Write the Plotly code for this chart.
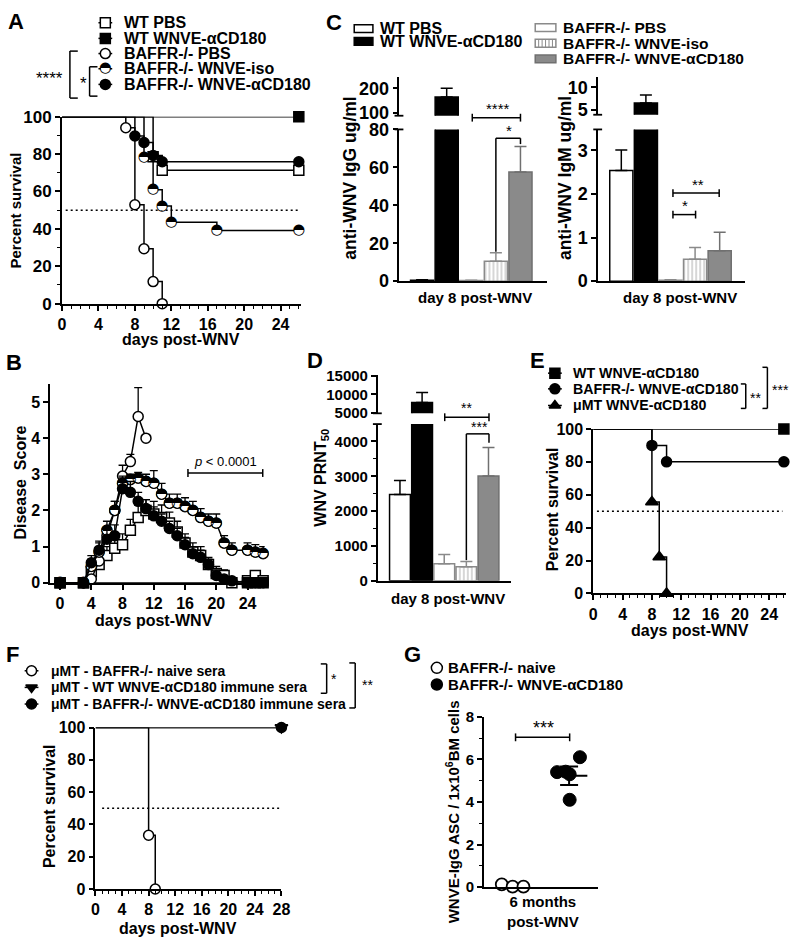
import plotly.graph_objects as go

W, H = 800, 948
FONT = "Liberation Sans"
GFONT = "DejaVu Sans"
HALF = "\u25D3"

# ---------------- DATA ----------------
# A: survival (%) at event days
a_wt_pbs_t = [0, 10, 11, 26]
a_wt_pbs_s = [100, 78.6, 71.4, 71.4]
a_wt_cd180_t = [0, 26]
a_wt_cd180_s = [100, 100]
a_ko_pbs_t = [0, 7, 8, 9, 10, 11]
a_ko_pbs_s = [100, 94.1, 52.9, 29.4, 11.8, 0]
a_ko_iso_t = [0, 9, 10, 11, 12, 17, 26]
a_ko_iso_s = [100, 78.3, 60.9, 52.2, 43.5, 39.1, 39.1]
a_ko_cd180_t = [0, 8, 9, 10, 11, 26]
a_ko_cd180_s = [100, 89.7, 86.2, 79.3, 75.9, 75.9]
a_legend = ["WT PBS", "WT WNVE-\u03b1CD180", "BAFFR-/- PBS", "BAFFR-/- WNVE-iso", "BAFFR-/- WNVE-\u03b1CD180"]

# B: disease score (mean, +SEM)
b_wt_pbs_d = [0, 3, 4, 5, 6, 7, 8, 9, 10, 11, 12, 13, 14, 15, 16, 17, 18, 19, 20, 21, 22, 24, 25, 26]
b_wt_pbs_v = [0, 0, 0.3, 0.5, 0.75, 0.95, 1.05, 1.45, 1.8, 2.0, 1.9, 1.8, 1.65, 1.4, 1.1, 0.85, 0.75, 0.5, 0.25, 0.2, 0.0, 0.05, 0.2, 0.05]
b_wt_pbs_e = [0, 0, 0.15, 0.2, 0.25, 0.25, 0.3, 0.3, 0.35, 0.3, 0.35, 0.35, 0.3, 0.3, 0.25, 0.25, 0.25, 0.2, 0.2, 0.15, 0.1, 0.1, 0.1, 0.05]
b_wt_cd180_d = [0, 3, 24, 25, 26]
b_wt_cd180_v = [0, 0, 0, 0, 0]
b_wt_cd180_e = [0, 0, 0, 0, 0]
b_ko_pbs_d = [0, 3, 4, 5, 6, 7, 8, 9, 10, 11]
b_ko_pbs_v = [0, 0, 0.1, 0.6, 1.3, 2.0, 2.95, 3.35, 4.6, 4.0]
b_ko_pbs_e = [0, 0, 0.1, 0.2, 0.25, 0.25, 0.3, 0.2, 0.8, 0]
b_ko_iso_d = [0, 3, 4, 5, 6, 7, 8, 9, 10, 11, 12, 13, 14, 15, 16, 17, 18, 19, 20, 21, 22, 24, 25, 26]
b_ko_iso_v = [0, 0, 0.45, 0.85, 1.45, 2.0, 2.75, 2.85, 2.9, 2.8, 2.75, 2.45, 2.2, 2.2, 2.1, 2.0, 1.8, 1.7, 1.65, 1.1, 0.9, 0.9, 0.85, 0.8]
b_ko_iso_e = [0, 0, 0.2, 0.25, 0.25, 0.25, 0.2, 0.15, 0.15, 0.2, 0.35, 0.3, 0.25, 0.25, 0.25, 0.25, 0.25, 0.2, 0.25, 0.2, 0.2, 0.2, 0.2, 0.2]
b_ko_cd180_d = [0, 3, 4, 5, 6, 7, 8, 9, 10, 11, 12, 13, 14, 15, 16, 17, 18, 19, 20, 21, 22, 24, 25, 26]
b_ko_cd180_v = [0, 0, 0.55, 0.9, 1.2, 1.3, 2.6, 2.5, 2.25, 2.05, 1.85, 1.7, 1.5, 1.3, 1.05, 0.8, 0.7, 0.5, 0.2, 0.1, 0.05, 0, 0, 0]
b_ko_cd180_e = [0, 0, 0.2, 0.25, 0.25, 0.3, 0.3, 0.3, 0.25, 0.25, 0.25, 0.2, 0.2, 0.2, 0.2, 0.2, 0.2, 0.15, 0.15, 0.1, 0.05, 0, 0, 0]

# C / D: bar groups (day 8 post-WNV)
bar_groups = ["WT PBS", "WT WNVE-\u03b1CD180", "BAFFR-/- PBS", "BAFFR-/- WNVE-iso", "BAFFR-/- WNVE-\u03b1CD180"]
bar_x = [0, 1, 2, 3, 4]
c_igg_mean = [0.5, 165, 0.3, 10.5, 57.5]
c_igg_err = [0.2, 35, 0.2, 4.5, 13.5]
c_igm_mean = [2.54, 6.5, 0.02, 0.5, 0.7]
c_igm_err = [0.47, 1.8, 0.01, 0.27, 0.42]
d_prnt_mean = [2480, 7750, 490, 400, 3010]
d_prnt_err = [400, 2750, 260, 150, 820]
d_upper_ticks = [5000, 10000, 15000]
d_lower_ticks = [0, 1000, 2000, 3000, 4000]

# E: survival
e_wt_t = [0, 26]
e_wt_s = [100, 100]
e_ko_t = [0, 8, 10, 26]
e_ko_s = [100, 90, 80, 80]
e_mumt_t = [0, 8, 9, 10]
e_mumt_s = [100, 55.6, 22.2, 0]
e_legend = ["WT WNVE-\u03b1CD180", "BAFFR-/- WNVE-\u03b1CD180", "\u03bcMT WNVE-\u03b1CD180"]

# F: survival (serum transfer)
f_naive_t = [0, 8, 9]
f_naive_s = [100, 33.3, 0]
f_wt_t = [0, 28]
f_wt_s = [100, 100]
f_ko_t = [0, 28]
f_ko_s = [100, 100]
f_legend = ["\u03bcMT - BAFFR-/- naive sera", "\u03bcMT - WT WNVE-\u03b1CD180 immune sera",
            "\u03bcMT - BAFFR-/- WNVE-\u03b1CD180 immune sera"]

# G: ASC per 1e6 BM cells
g_naive_x = [0.155, 0.25, 0.345]
g_naive_y = [0.13, 0.02, 0.02]
g_imm_x = [0.64, 0.715, 0.75, 0.84, 0.75]
g_imm_y = [5.4, 5.42, 5.3, 6.1, 4.1]
g_mean = 5.23
g_sem = 0.44
g_legend = ["BAFFR-/- naive", "BAFFR-/- WNVE-\u03b1CD180"]

# ---------------- helpers ----------------
traces, shapes, anns = [], [], []


def xdom(a, b):
    return [a / W, b / W]


def ydom(top, bot):
    return [1 - bot / H, 1 - top / H]


def tf(s):
    return dict(family=FONT, size=s, color="black", weight="bold")


def ann(px, py, text, size=16, xanchor="center", angle=0, bold=True):
    anns.append(dict(x=px / W, y=1 - py / H, xref="paper", yref="paper", text=text, showarrow=False,
                     xanchor=xanchor, yanchor="middle", textangle=angle, borderpad=0,
                     font=dict(family=FONT, size=size, color="black", weight="bold" if bold else "normal")))


def seg(x0, y0, x1, y1, w=1.5, color="black"):
    shapes.append(dict(type="line", xref="x12", yref="y12", x0=x0, y0=y0, x1=x1, y1=y1,
                       line=dict(color=color, width=w)))


def hbracket(x0, x1, y, cap=4):
    seg(x0, y, x1, y)
    seg(x0, y - cap, x0, y + cap)
    seg(x1, y - cap, x1, y + cap)


def vbracket(x, y0, y1, tick):
    seg(x, y0, x, y1)
    seg(x, y0, x + tick, y0)
    seg(x, y1, x + tick, y1)


def halfmark(xs, ys, xa, ya, size=10):
    traces.append(go.Scatter(x=xs, y=ys, mode="markers", xaxis=xa, yaxis=ya, cliponaxis=False,
                             marker=dict(symbol="circle", size=size - 1, color="white", line=dict(width=0)),
                             hoverinfo="skip", showlegend=False))
    traces.append(go.Scatter(x=xs, y=ys, mode="text", text=[HALF] * len(xs), xaxis=xa, yaxis=ya,
                             cliponaxis=False, textposition="middle center",
                             textfont=dict(family=GFONT, size=size * 1.45, color="black"),
                             hoverinfo="skip", showlegend=False))


def marks(xs, ys, xa, ya, symbol, fill, size=10):
    traces.append(go.Scatter(x=xs, y=ys, mode="markers", xaxis=xa, yaxis=ya, cliponaxis=False,
                             marker=dict(symbol=symbol, size=size, color=fill, line=dict(color="black", width=1.5)),
                             hoverinfo="skip", showlegend=False))


def km(t, s, xa, ya, symbol, fill, half=False, size=10):
    traces.append(go.Scatter(x=t, y=s, mode="lines", xaxis=xa, yaxis=ya, cliponaxis=False,
                             line=dict(color="black", width=1.5, shape="hv"), hoverinfo="skip", showlegend=False))
    if half:
        halfmark(t[1:], s[1:], xa, ya, size)
    else:
        marks(t[1:], s[1:], xa, ya, symbol, fill, size)


def dotted50(x0, x1, xa, ya):
    traces.append(go.Scatter(x=[x0, x1], y=[50, 50], mode="lines", xaxis=xa, yaxis=ya,
                             line=dict(color="black", width=1.5, dash="2px,3px"), hoverinfo="skip", showlegend=False))


def legsym(cx, cy, symbol=None, fill="white", line=True, half=False, size=10, seglen=7):
    if line:
        traces.append(go.Scatter(x=[cx - seglen, cx + seglen], y=[cy, cy], mode="lines", xaxis="x12", yaxis="y12",
                                 line=dict(color="black", width=1.5), hoverinfo="skip", showlegend=False))
    if half:
        halfmark([cx], [cy], "x12", "y12", size)
    else:
        marks([cx], [cy], "x12", "y12", symbol, fill, size)


def ax(domain, rng, anchor, **kw):
    d = dict(domain=domain, range=rng, anchor=anchor, showline=True, linecolor="black", linewidth=1.8,
             ticks="outside", ticklen=5, tickwidth=1.8, tickcolor="black", showgrid=False, zeroline=False,
             tickfont=tf(16), fixedrange=True)
    d.update(kw)
    return d


def minor(dt):
    return dict(dtick=dt, ticks="outside", ticklen=3, tickwidth=1.2, tickcolor="black", showgrid=False)


L = {}

# ---------------- Panel A ----------------
L["xaxis"] = ax(xdom(59, 302), [0, 26.25], "y", tick0=0, dtick=4, minor=minor(1), tickfont=tf(16))
L["yaxis"] = ax(ydom(109, 300), [0, 100], "x", tick0=0, dtick=20, minor=minor(10), tickfont=tf(17))
dotted50(0.4, 26, "x", "y")
km(a_wt_pbs_t, a_wt_pbs_s, "x", "y", "square", "white")
km(a_wt_cd180_t, a_wt_cd180_s, "x", "y", "square", "black")
km(a_ko_pbs_t, a_ko_pbs_s, "x", "y", "circle", "white")
km(a_ko_iso_t, a_ko_iso_s, "x", "y", None, None, half=True)
km(a_ko_cd180_t, a_ko_cd180_s, "x", "y", "circle", "black")

ann(12, 12, "A", 22)
a_rows = [13, 29, 44.5, 60, 76]
a_syms = [("square", "white", False), ("square", "black", False), ("circle", "white", False),
          (None, None, True), ("circle", "black", False)]
for yy, lab, (sy, fi, hf) in zip(a_rows, a_legend, a_syms):
    legsym(103, yy, sy, fi, half=hf)
    ann(121, yy, lab, 16, xanchor="left")
vbracket(67, 42, 90, 8)
vbracket(87, 58, 88, 8)
ann(46, 70, "****", 17, bold=False)
ann(81, 75, "*", 17, bold=False)
ann(12, 205, "Percent survival", 15, angle=-90)
ann(180, 337, "days post-WNV", 16)

# ---------------- Panel B ----------------
L["xaxis2"] = ax(xdom(47, 265), [-1.26, 26.2], "y2", tickvals=[0, 4, 8, 12, 16, 20, 24])
L["yaxis2"] = ax(ydom(382, 585), [0, 5.5], "x2", tickvals=[0, 1, 2, 3, 4, 5])
b_series = [
    (b_wt_pbs_d, b_wt_pbs_v, b_wt_pbs_e, "square", "white", False),
    (b_wt_cd180_d, b_wt_cd180_v, b_wt_cd180_e, "square", "black", False),
    (b_ko_pbs_d, b_ko_pbs_v, b_ko_pbs_e, "circle", "white", False),
    (b_ko_iso_d, b_ko_iso_v, b_ko_iso_e, "circle", "white", True),
    (b_ko_cd180_d, b_ko_cd180_v, b_ko_cd180_e, "circle", "black", False),
]
for d, v, e, sy, fi, hf in b_series:
    traces.append(go.Scatter(x=d, y=v, mode="lines+markers", xaxis="x2", yaxis="y2", cliponaxis=False,
                             line=dict(color="black", width=1.5),
                             marker=dict(symbol=sy, size=10, color=fi, line=dict(color="black", width=1.5)),
                             error_y=dict(type="data", symmetric=False, array=e, arrayminus=[0] * len(e),
                                          color="black", thickness=1.3, width=4),
                             hoverinfo="skip", showlegend=False))
    if hf:
        halfmark(d, v, "x2", "y2", 10)
ann(10, 360, "B", 22)
ann(17, 483, "Disease\u00a0 Score", 16, angle=-90)
ann(152, 624, "days post-WNV", 16)
hbracket(187, 263, 473)
ann(225, 461, "<i>p</i> &lt; 0.0001", 13, bold=False)

# ---------------- Panels C / D bars ----------------
bar_fill = ["white", "black", "white", "white", "#8a8a8a"]
bar_line = ["black", "black", "#8a8a8a", "#8a8a8a", "#707070"]
bar_pat = ["", "", "", "|", ""]


def bars(means, errs, xa, ya):
    for i in range(len(bar_x)):
        mk = dict(color=bar_fill[i], line=dict(color=bar_line[i], width=1.5))
        if bar_pat[i]:
            mk["pattern"] = dict(shape=bar_pat[i], fgcolor="#8a8a8a", bgcolor="white", size=4, solidity=0.35)
        traces.append(go.Bar(x=[bar_x[i]], y=[means[i]], width=0.94, xaxis=xa, yaxis=ya, marker=mk,
                             error_y=dict(type="data", symmetric=False, array=[errs[i]], arrayminus=[0],
                                          color=bar_line[i], thickness=1.5, width=6),
                             hoverinfo="skip", showlegend=False))


noxt = dict(ticks="", showticklabels=False)
# C IgG
L["xaxis3"] = ax(xdom(402, 552), [-0.92, 5.08], "y3", **noxt)
L["yaxis3"] = ax(ydom(122, 277), [0, 80], "x3", tickvals=[0, 20, 40, 60, 80], tickfont=tf(18))
L["xaxis4"] = ax(xdom(402, 552), [-0.92, 5.08], "y4", visible=False)
L["yaxis4"] = ax(ydom(68, 108), [88, 248], "x4", tickvals=[100, 200], tickfont=tf(18))
bars(c_igg_mean, c_igg_err, "x3", "y3")
bars(c_igg_mean, c_igg_err, "x4", "y4")
# C IgM
L["xaxis5"] = ax(xdom(604, 753), [-0.94, 5.02], "y5", **noxt)
L["yaxis5"] = ax(ydom(122, 277), [0, 3.48], "x5", tickvals=[0, 1, 2, 3], tickfont=tf(18))
L["xaxis6"] = ax(xdom(604, 753), [-0.94, 5.02], "y6", visible=False)
L["yaxis6"] = ax(ydom(68, 107), [3.9, 12.4], "x6", tickvals=[5, 10], tickfont=tf(18))
bars(c_igm_mean, c_igm_err, "x5", "y5")
bars(c_igm_mean, c_igm_err, "x6", "y6")
# D PRNT50
L["xaxis7"] = ax(xdom(380, 515), [-1.0, 5.0], "y7", **noxt)
L["yaxis7"] = ax(ydom(423, 583), [0, 4500], "x7", tickvals=d_lower_ticks,
                 ticktext=[str(v) for v in d_lower_ticks], minor=minor(500), tickfont=tf(15))
L["xaxis8"] = ax(xdom(380, 515), [-1.0, 5.0], "y8", visible=False)
L["yaxis8"] = ax(ydom(373, 412), [4800, 15300], "x8", tickvals=d_upper_ticks,
                 ticktext=[str(v) for v in d_upper_ticks], tickfont=tf(15))
bars(d_prnt_mean, d_prnt_err, "x7", "y7")
bars(d_prnt_mean, d_prnt_err, "x8", "y8")

# axis-break end marks
for bx, by in [(402, 122), (402, 108), (604, 122), (604, 107), (380, 423), (380, 412)]:
    seg(bx - 5, by, bx + 4, by, w=1.8)

ann(335, 13, "C", 22)
# C legend (left)
shapes.append(dict(type="rect", xref="x12", yref="y12", x0=356, x1=375, y0=15, y1=23,
                   line=dict(color="black", width=1.5), fillcolor="white"))
shapes.append(dict(type="rect", xref="x12", yref="y12", x0=356, x1=375, y0=28, y1=36,
                   line=dict(color="black", width=1.5), fillcolor="black"))
ann(381, 19, bar_groups[0], 16, xanchor="left")
ann(381, 32, bar_groups[1], 16, xanchor="left")
# C legend (right)
rr = [18, 34, 50]
shapes.append(dict(type="rect", xref="x12", yref="y12", x0=540, x1=561, y0=rr[0] - 4, y1=rr[0] + 4,
                   line=dict(color="#8a8a8a", width=1.5), fillcolor="white"))
shapes.append(dict(type="rect", xref="x12", yref="y12", x0=540, x1=561, y0=rr[1] - 4, y1=rr[1] + 4,
                   line=dict(color="#8a8a8a", width=1.5), fillcolor="white"))
for k in range(5):
    seg(543.5 + 3.5 * k, rr[1] - 4, 543.5 + 3.5 * k, rr[1] + 4, w=1, color="#8a8a8a")
shapes.append(dict(type="rect", xref="x12", yref="y12", x0=540, x1=561, y0=rr[2] - 4, y1=rr[2] + 4,
                   line=dict(color="#707070", width=1.5), fillcolor="#8a8a8a"))
for yy, lab in zip(rr, bar_groups[2:]):
    ann(567, yy, lab, 15.5, xanchor="left")

ann(352, 172, "anti-WNV IgG ug/ml", 17.5, angle=-90)
ann(571, 172, "anti-WNV IgM ug/ml", 17.5, angle=-90)
ann(479, 294, "day 8 post-WNV", 15)
ann(687, 294, "day 8 post-WNV", 15)
# C significance
hbracket(476, 525, 110)
ann(502, 101, "****", 15, bold=False)
seg(500, 247, 500, 131)
seg(500, 131, 525, 131)
seg(525, 131, 525, 137)
ann(513, 123, "*", 15, bold=False)
hbracket(680, 727, 187)
ann(705, 178, "**", 15, bold=False)
hbracket(680, 703, 209)
ann(692, 200, "*", 15, bold=False)

ann(316, 358, "D", 22)
ann(323, 478, "WNV PRNT<sub>50</sub>", 16, angle=-90)
ann(451, 601, "day 8 post-WNV", 15)
hbracket(448, 493, 416)
ann(470, 407, "**", 14, bold=False)
seg(470, 562, 470, 433)
seg(470, 433, 493, 433)
seg(493, 433, 493, 442)
ann(483, 426, "***", 14, bold=False)

# ---------------- Panel E ----------------
L["xaxis9"] = ax(xdom(599, 795), [0, 26.3], "y9", tick0=0, dtick=4, minor=minor(1))
L["yaxis9"] = ax(ydom(428, 596), [0, 100], "x9", tick0=0, dtick=20)
dotted50(0.5, 25.8, "x9", "y9")
km(e_wt_t, e_wt_s, "x9", "y9", "square", "black")
km(e_ko_t, e_ko_s, "x9", "y9", "circle", "black")
km(e_mumt_t, e_mumt_s, "x9", "y9", "triangle-up", "black", size=11)
ann(542, 358, "E", 22)
e_rows = [371, 387, 404]
for yy, lab, sy in zip(e_rows, e_legend, ["square", "circle", "triangle-up"]):
    legsym(560, yy, sy, "black")
    ann(577, yy, lab, 14.2, xanchor="left")
vbracket(754, 382, 407, -5)
ann(764, 396, "**", 14, bold=False)
vbracket(776, 365, 407, -5)
ann(789, 388, "***", 14, bold=False)
ann(557, 510, "Percent survival", 16, angle=-90)
ann(697, 634, "days post-WNV", 16)

# ---------------- Panel F ----------------
L["xaxis10"] = ax(xdom(93, 282), [0, 28], "y10", tick0=0, dtick=4, minor=minor(1))
L["yaxis10"] = ax(ydom(733, 898), [0, 100], "x10", tick0=0, dtick=20)
dotted50(1, 28, "x10", "y10")
km(f_wt_t, f_wt_s, "x10", "y10", "triangle-down", "black", size=11)
km(f_ko_t, f_ko_s, "x10", "y10", "circle", "black")
km(f_naive_t, f_naive_s, "x10", "y10", "circle", "white")
ann(9, 658, "F", 22)
f_rows = [675, 692, 709]
for yy, lab, (sy, fi) in zip(f_rows, f_legend, [("circle", "white"), ("triangle-down", "black"), ("circle", "black")]):
    legsym(28, yy, sy, fi)
    ann(47, yy, lab, 14, xanchor="left")
vbracket(328, 668, 698, -6)
ann(335, 683, "*", 14, bold=False)
vbracket(357, 667, 713, -6)
ann(369, 690, "**", 14, bold=False)
ann(47, 813, "Percent survival", 16, angle=-90)
ann(177, 938, "days post-WNV", 16)

# ---------------- Panel G ----------------
L["xaxis11"] = ax(xdom(488, 604), [0, 1], "y11", **noxt)
L["yaxis11"] = ax(ydom(722, 896), [0, 8], "x11", tick0=0, dtick=2, minor=minor(1), tickfont=tf(15))
traces.append(go.Scatter(x=g_naive_x, y=g_naive_y, mode="markers", xaxis="x11", yaxis="y11", cliponaxis=False,
                         marker=dict(symbol="circle", size=12, color="white", line=dict(color="black", width=1.8)),
                         hoverinfo="skip", showlegend=False))
traces.append(go.Scatter(x=g_imm_x, y=g_imm_y, mode="markers", xaxis="x11", yaxis="y11", cliponaxis=False,
                         marker=dict(symbol="circle", size=13, color="black", line=dict(color="black", width=1)),
                         hoverinfo="skip", showlegend=False))
traces.append(go.Scatter(x=[0.595, 0.905], y=[g_mean, g_mean], mode="lines", xaxis="x11", yaxis="y11",
                         line=dict(color="black", width=2), hoverinfo="skip", showlegend=False))
traces.append(go.Scatter(x=[0.745], y=[g_mean], mode="markers", xaxis="x11", yaxis="y11",
                         marker=dict(size=1, color="rgba(0,0,0,0)"),
                         error_y=dict(type="data", array=[g_sem], color="black", thickness=2, width=9),
                         hoverinfo="skip", showlegend=False))
ann(415, 658, "G", 22)
g_rows = [672, 689]
legsym(440, g_rows[0], "circle", "white", line=False, size=11)
legsym(440, g_rows[1], "circle", "black", line=False, size=11)
ann(450, g_rows[0], g_legend[0], 15, xanchor="left")
ann(450, g_rows[1], g_legend[1], 15, xanchor="left")
hbracket(520, 575, 743)
ann(548, 733, "***", 18, bold=False)
ann(456, 819, "WNVE-IgG ASC / 1x10<sup>6</sup>BM cells", 15, angle=-90)
ann(548, 921, "6 months<br>post-WNV", 15)

# ---------------- overlay axis (pixel space) ----------------
L["xaxis12"] = dict(domain=[0, 1], range=[0, W], visible=False, anchor="y12", fixedrange=True)
L["yaxis12"] = dict(domain=[0, 1], range=[H, 0], visible=False, anchor="x12", fixedrange=True)

fig = go.Figure(data=traces)
fig.update_layout(**L)
fig.update_layout(width=W, height=H, margin=dict(l=0, r=0, t=0, b=0), paper_bgcolor="white",
                  plot_bgcolor="rgba(0,0,0,0)", showlegend=False, barmode="overlay",
                  shapes=shapes, annotations=anns, font=dict(family=FONT, color="black"))
fig.write_html("out.html", config={"displayModeBar": False},
               post_script="document.body.style.margin='0px';document.body.style.padding='0px';"
                           "document.body.style.overflow='hidden';")
